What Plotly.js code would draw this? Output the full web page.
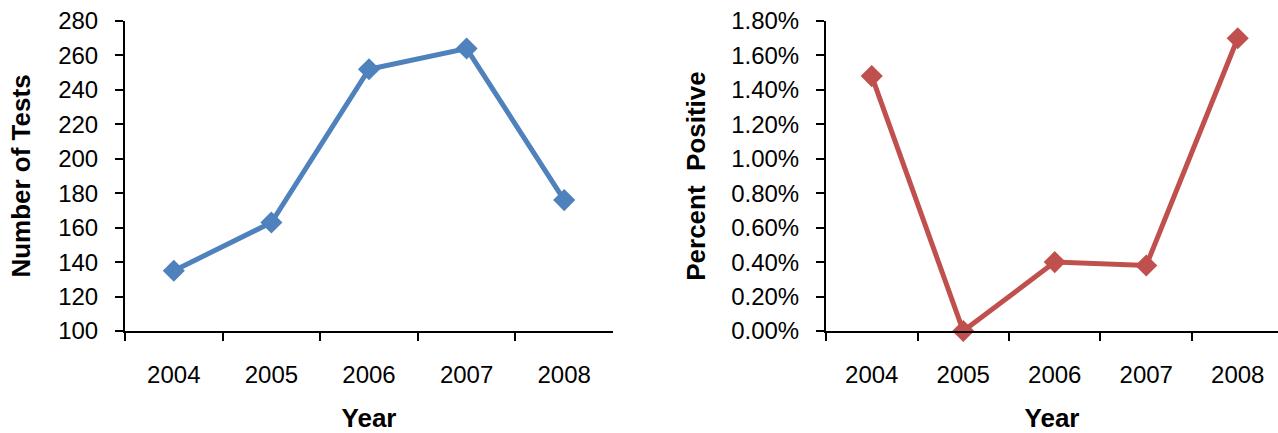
<!DOCTYPE html>
<html>
<head>
<meta charset="utf-8">
<script src="https://cdn.plot.ly/plotly-3.0.1.min.js"></script>
<style>html,body{margin:0;padding:0;background:#fff;}#chart{width:1278px;height:433px;}</style>
</head>
<body>
<div id="chart"></div>
<script>
const years = ["2004", "2005", "2006", "2007", "2008"];
const numberOfTests = [135, 163, 252, 264, 176];
const percentPositive = [0.0148, 0.0, 0.0040, 0.0038, 0.0170];
const testTicks = [100, 120, 140, 160, 180, 200, 220, 240, 260, 280];
const pctTicks = [0, 0.002, 0.004, 0.006, 0.008, 0.010, 0.012, 0.014, 0.016, 0.018];

const W = 1278, H = 433;
const tickFont = {family: "Liberation Sans, Arial, sans-serif", size: 24, color: "#000"};
const titleFont = {family: "Liberation Sans, Arial, sans-serif", size: 26, color: "#000", weight: "bold"};

const traces = [
  {x: years, y: numberOfTests, xaxis: "x", yaxis: "y", type: "scatter", mode: "lines+markers",
   line: {color: "#4F81BD", width: 5}, marker: {symbol: "diamond", size: 17, color: "#4F81BD"}},
  {x: years, y: percentPositive, xaxis: "x2", yaxis: "y2", type: "scatter", mode: "lines+markers",
   line: {color: "#C0504D", width: 5}, marker: {symbol: "diamond", size: 17, color: "#C0504D"}, cliponaxis: false}
];

const xCommon = {
  type: "category", showgrid: false, zeroline: false, showline: true, linecolor: "#000", linewidth: 2,
  ticks: "outside", ticklen: 8, tickwidth: 2, tickcolor: "#000", tickson: "boundaries",
  tickfont: tickFont, ticklabelstandoff: 21, automargin: false,
  title: {text: "Year", font: titleFont, standoff: 29}
};
const yCommon = {
  showgrid: false, zeroline: false, showline: true, linecolor: "#000", linewidth: 2,
  ticks: "outside", ticklen: 8, tickwidth: 2, tickcolor: "#000", tickfont: tickFont,
  ticklabelstandoff: 12, automargin: false, tickmode: "array"
};

const yTop = 1 - 21 / H, yBot = 1 - 331 / H;
const layout = {
  width: W, height: H,
  margin: {l: 0, r: 0, t: 0, b: 0},
  paper_bgcolor: "#fff", plot_bgcolor: "#fff",
  showlegend: false,
  xaxis: Object.assign({}, xCommon, {domain: [125 / W, 613 / W], anchor: "y", range: [-0.5, 4.5]}),
  yaxis: Object.assign({}, yCommon, {domain: [yBot, yTop], anchor: "x", range: [100, 280],
    tickvals: testTicks, ticktext: testTicks.map(String),
    title: {text: "Number of Tests", font: titleFont, standoff: 20}}),
  xaxis2: Object.assign({}, xCommon, {domain: [826 / W, 1], anchor: "y2", range: [-0.5, 4.44]}),
  yaxis2: Object.assign({}, yCommon, {domain: [yBot, yTop], anchor: "x2", range: [0, 0.018],
    tickvals: pctTicks, ticktext: pctTicks.map(v => (v * 100).toFixed(2) + "%"),
    title: {text: "Percent  Positive", font: titleFont, standoff: 18}})
};

Plotly.newPlot("chart", traces, layout, {displayModeBar: false, staticPlot: true});
</script>
</body>
</html>
